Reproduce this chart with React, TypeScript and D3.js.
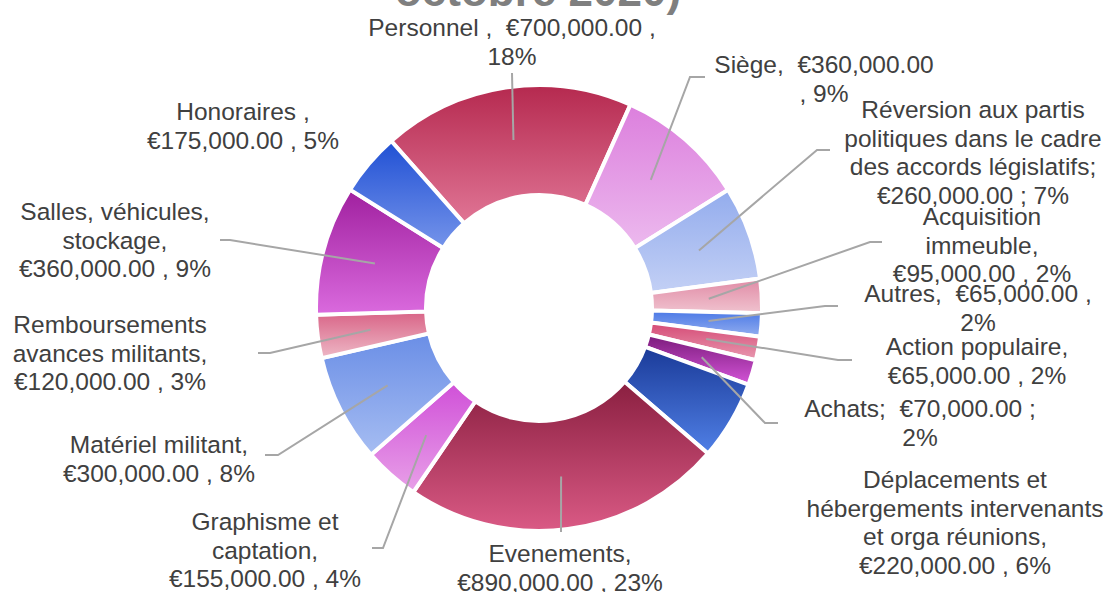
import React from "react";
import * as d3 from "d3";

const categories = [
  "Personnel",
  "Siège",
  "Réversion aux partis politiques",
  "Acquisition immeuble",
  "Autres",
  "Action populaire",
  "Achats",
  "Déplacements et hébergements",
  "Evenements",
  "Graphisme et captation",
  "Matériel militant",
  "Remboursements avances militants",
  "Salles, véhicules, stockage",
  "Honoraires",
];
const values = [700000, 360000, 260000, 95000, 65000, 65000, 70000, 220000, 890000, 155000, 300000, 120000, 360000, 175000];
const labelLines = [
  ["Personnel ,  €700,000.00 ,", "18%"],
  ["Siège,  €360,000.00", ", 9%"],
  ["Réversion aux partis", "politiques dans le cadre", "des accords législatifs;", "€260,000.00 ; 7%"],
  ["Acquisition", "immeuble,", "€95,000.00 , 2%"],
  ["Autres,  €65,000.00 ,", "2%"],
  ["Action populaire,", "€65,000.00 , 2%"],
  ["Achats;  €70,000.00 ;", "2%"],
  ["Déplacements et", "hébergements intervenants", "et orga réunions,", "€220,000.00 , 6%"],
  ["Evenements,", "€890,000.00 , 23%"],
  ["Graphisme et", "captation,", "€155,000.00 , 4%"],
  ["Matériel militant,", "€300,000.00 , 8%"],
  ["Remboursements", "avances militants,", "€120,000.00 , 3%"],
  ["Salles, véhicules,", "stockage,", "€360,000.00 , 9%"],
  ["Honoraires ,", "€175,000.00 , 5%"],
];
const colorTop = ["#b5294f", "#dc7fdd", "#93aced", "#e08aa5", "#4a78e6", "#d54a75", "#7a1a7a", "#1a3a98", "#8a1f40", "#d050d8", "#6a8ee6", "#d86386", "#a0209f", "#2050d4"];
const colorBottom = ["#e07595", "#ecb9ee", "#c3d0f5", "#f0c3cf", "#93aeef", "#e899b0", "#d455d8", "#5080e6", "#da5a85", "#e8a0e8", "#a6bdf2", "#eeb8c6", "#da6ade", "#7594ea"];

// label layout: text center x, first baseline y, leader knee (kx, ky), leader tail x (tx) or null
const labelLayout: { x: number; y: number; k: [number, number] | null; t: number | null }[] = [
  { x: 512, y: 36, k: [512, 73], t: null },
  { x: 824, y: 73, k: [690, 77], t: 705 },
  { x: 973, y: 118, k: [817, 150], t: 830 },
  { x: 982, y: 225, k: [870, 242], t: 882 },
  { x: 978, y: 302, k: [825, 306], t: 838 },
  { x: 977, y: 355, k: [838, 360], t: 852 },
  { x: 920, y: 417, k: [765, 423], t: 778 },
  { x: 955, y: 488, k: null, t: null },
  { x: 560, y: 562, k: [561, 532], t: null },
  { x: 265, y: 530, k: [383, 548], t: 372 },
  { x: 159, y: 453, k: [278, 455], t: 265 },
  { x: 110, y: 333, k: [270, 353], t: 258 },
  { x: 115, y: 220, k: [230, 240], t: 220 },
  { x: 243, y: 120, k: null, t: null },
];

const W = 1108;
const H = 592;
const cx = 539;
const cy = 308;
const outerR = 223;
const innerR = 113;
const startDeg = -41.5;

export default function App() {
  const pie = d3
    .pie<number>()
    .sort(null)
    .value((d) => d)
    .startAngle((startDeg * Math.PI) / 180)
    .endAngle(((startDeg + 360) * Math.PI) / 180);
  const arcs = pie(values);
  const arc = d3.arc<d3.PieArcDatum<number>>().innerRadius(innerR).outerRadius(outerR);
  const mid = d3.arc<d3.PieArcDatum<number>>().innerRadius(170).outerRadius(170);
  const lineH = 28.5;

  return (
    <svg width={W} height={H} style={{ position: "absolute", left: 0, top: 0, background: "#fff" }}>
      <defs>
        {arcs.map((a, i) => (
          <linearGradient key={i} id={`g${i}`} x1="0" y1="0" x2="0" y2="1">
            <stop offset="0" stopColor={colorTop[i]} />
            <stop offset="1" stopColor={colorBottom[i]} />
          </linearGradient>
        ))}
      </defs>
      <rect width={W} height={H} fill="#fff" />
      <text x={538} y={6} textAnchor="middle" fontFamily="Liberation Sans, Arial, sans-serif" fontWeight="bold" fontSize={44} fill="#7f7f7f">
        octobre 2020)
      </text>
      <g transform={`translate(${cx},${cy})`}>
        {arcs.map((a, i) => (
          <path key={categories[i]} d={arc(a) || ""} fill={`url(#g${i})`} stroke="#fff" strokeWidth={4} strokeLinejoin="miter" />
        ))}
      </g>
      <g fill="none" stroke="#a6a6a6" strokeWidth={2}>
        {arcs.map((a, i) => {
          const L = labelLayout[i];
          if (!L.k) return null;
          const [mx, my] = mid.centroid(a);
          const pts: [number, number][] = [[cx + mx, cy + my], L.k];
          if (L.t !== null) pts.push([L.t, L.k[1]]);
          return <path key={i} d={d3.line()(pts) || ""} />;
        })}
      </g>
      <g fontFamily="Liberation Sans, Arial, sans-serif" fontSize={24.5} fill="#404040" textAnchor="middle">
        {labelLines.map((lines, i) => (
          <text key={i} x={labelLayout[i].x} y={labelLayout[i].y} style={{ whiteSpace: "pre" }}>
            {lines.map((ln, j) => (
              <tspan key={j} x={labelLayout[i].x} y={labelLayout[i].y + j * lineH}>
                {ln}
              </tspan>
            ))}
          </text>
        ))}
      </g>
    </svg>
  );
}
